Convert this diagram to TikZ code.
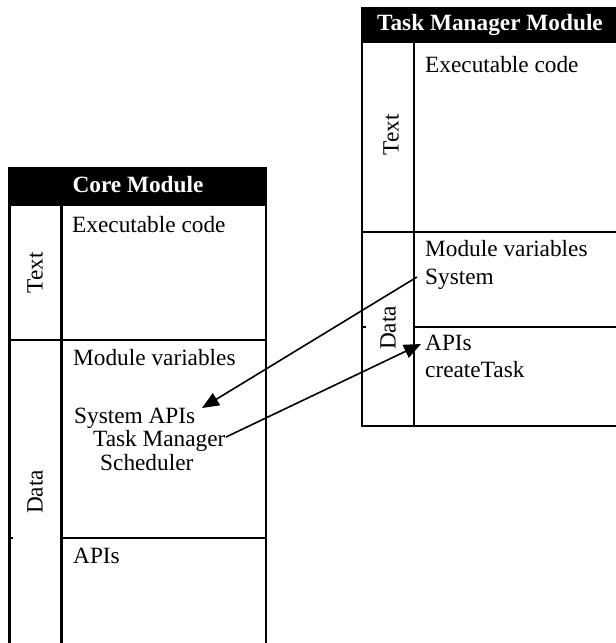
\documentclass[tikz,border=0pt]{standalone}
\usepackage{fontspec}
\setmainfont{Liberation Serif}
\usetikzlibrary{arrows.meta}
\begin{document}
\begin{tikzpicture}[x=1pt,y=-1pt,
  txt/.style={anchor=base west, inner sep=0pt, font=\fontsize{23.3}{28}\selectfont},
  hdr/.style={anchor=base, inner sep=0pt, text=white, font=\fontsize{23.3}{28}\selectfont\bfseries},
  side/.style={rotate=90, inner sep=0pt, anchor=center, font=\fontsize{23.3}{28}\selectfont},
  coreline/.style={line width=2.9pt},
  tmline/.style={line width=2.3pt},
  conn/.style={line width=1.6pt, -{Triangle[length=17pt,width=14pt]}}]
\useasboundingbox (0,0) rectangle (616,643);
\clip (0,0) rectangle (616,643);
% ---- Core Module ----
\fill[black] (8,167) rectangle (267.4,206);
\draw[coreline] (9.5,206) -- (9.5,660);
\draw[coreline] (61.5,206) -- (61.5,660);
\draw[coreline] (266,167) -- (266,660);
\draw[coreline] (8,340) -- (267.4,340);
\draw[coreline] (61.5,538) -- (267.4,538);
\draw[coreline] (8,538) -- (13,538);
\node[hdr] (coreh) at (138,192) {Core Module};
\node[side] (coretext) at (35,273) {Text};
\node[side] (coredata) at (35,492) {Data};
\node[txt] (coreexe) at (72,232) {Executable code};
\node[txt] (coremv) at (73,365) {Module variables};
\node[txt] (coresys) at (74,423) {System APIs};
\node[txt] (coretm) at (93,446) {Task Manager};
\node[txt] (coresch) at (100,470) {Scheduler};
\node[txt] (coreapi) at (73,563) {APIs};
% ---- Task Manager Module ----
\fill[black] (361,7) rectangle (622,43);
\draw[tmline] (362,43) -- (362,426) -- (622,426);
\draw[tmline] (414,43) -- (414,426);
\draw[tmline] (619,43) -- (619,426);
\draw[tmline] (361,232) -- (622,232);
\draw[tmline] (414,327) -- (622,327);
\draw[tmline] (361,327) -- (366,327);
\node[hdr] (tmh) at (490,30) {Task Manager Module};
\node[side] (tmtext) at (391,135) {Text};
\node[side] (tmdata) at (388,328) {Data};
\node[txt] (tmexe) at (425,72) {Executable code};
\node[txt] (tmmv) at (425,256) {Module variables};
\node[txt] (tmsys) at (425,284) {System};
\node[txt] (tmapi) at (425,350) {APIs};
\node[txt] (tmct) at (425,377) {createTask};
% ---- connectors ----
\coordinate (s1) at (417,277);
\coordinate (e1) at (202,408);
\coordinate (s2) at (226,437);
\coordinate (e2) at (421,344);
\draw[conn] (s1) -- (e1);
\draw[conn] (s2) -- (e2);
\end{tikzpicture}
\end{document}
